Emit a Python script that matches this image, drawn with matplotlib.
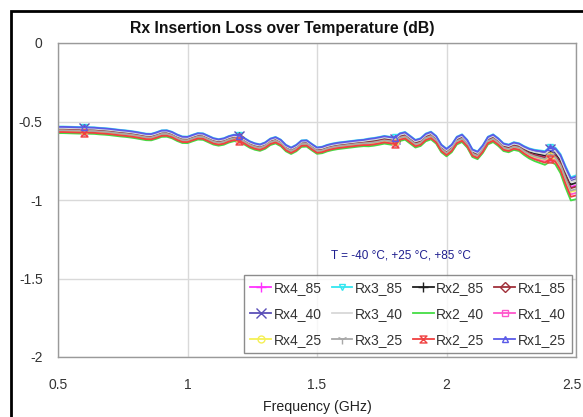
import numpy as np
import matplotlib
matplotlib.use("Agg")
import matplotlib.pyplot as plt
from matplotlib.path import Path
from matplotlib.patches import Rectangle
from matplotlib.transforms import ScaledTranslation

plt.rcParams['font.family'] = ['Liberation Sans', 'DejaVu Sans']

# Frequency grid (GHz)
freq = [round(0.50 + 0.02 * i, 2) for i in range(101)]

# Centre of the bundle of curves (dB)
base = [
    -0.552, -0.552, -0.553, -0.554, -0.555, -0.555, -0.556, -0.557, -0.560, -0.562,
    -0.565, -0.569, -0.573, -0.576, -0.580, -0.585, -0.591, -0.597, -0.598, -0.588,
    -0.576, -0.575, -0.585, -0.602, -0.615, -0.616, -0.604, -0.593, -0.595, -0.610,
    -0.625, -0.632, -0.626, -0.612, -0.603, -0.608, -0.625, -0.645, -0.658, -0.665,
    -0.652, -0.628, -0.618, -0.635, -0.668, -0.685, -0.668, -0.640, -0.638, -0.662,
    -0.684, -0.680, -0.668, -0.660, -0.654, -0.650, -0.646, -0.642, -0.638, -0.635,
    -0.632, -0.628, -0.622, -0.615, -0.620, -0.625, -0.598, -0.590, -0.615, -0.640,
    -0.630, -0.600, -0.588, -0.615, -0.670, -0.696, -0.670, -0.620, -0.605, -0.640,
    -0.700, -0.714, -0.675, -0.620, -0.605, -0.630, -0.662, -0.670, -0.655, -0.662,
    -0.684, -0.702, -0.714, -0.722, -0.730, -0.705, -0.716, -0.765, -0.850, -0.925,
    -0.915,
]

# Half-width of the bundle (dB) along frequency
spread = [0.022] * 60 + [0.026] * 30 + [0.030, 0.034, 0.038, 0.042, 0.046,
                                        0.050, 0.056, 0.064, 0.072, 0.078, 0.080]

series_names = ["Rx4_85", "Rx3_85", "Rx2_85", "Rx1_85",
                "Rx4_40", "Rx3_40", "Rx2_40", "Rx1_40",
                "Rx4_25", "Rx3_25", "Rx2_25", "Rx1_25"]
# relative position of each series inside the bundle (-1 bottom .. +1 top)
series_offsets = [0.1, 0.9, 0.3, 0.0,
                  0.6, 0.5, -1.0, -0.5,
                  -0.3, -0.2, -0.7, 0.8]

hourglass = Path([(-1, 1), (1, 1), (-1, -1), (1, -1), (-1, 1)],
                 [Path.MOVETO, Path.LINETO, Path.LINETO, Path.LINETO, Path.CLOSEPOLY])

styles = {
    "Rx4_85": dict(color="#FF33FF", marker="+"),
    "Rx3_85": dict(color="#33E6F0", marker="v"),
    "Rx2_85": dict(color="#202020", marker="+"),
    "Rx1_85": dict(color="#A0303A", marker="D"),
    "Rx4_40": dict(color="#5A4FB8", marker="x"),
    "Rx3_40": dict(color="#D8D8D8", marker=None),
    "Rx2_40": dict(color="#44DD44", marker=None),
    "Rx1_40": dict(color="#FF55CC", marker="s"),
    "Rx4_25": dict(color="#F5F055", marker="o"),
    "Rx3_25": dict(color="#A8A8A8", marker="1"),
    "Rx2_25": dict(color="#F04040", marker=hourglass),
    "Rx1_25": dict(color="#5A5AE8", marker="^"),
}

fig = plt.figure(figsize=(5.83, 4.17), dpi=100)
ax = fig.add_axes([58 / 583, 1 - 357 / 417, (576 - 58) / 583, (357 - 43) / 417])

f = np.array(freq)
b = np.array(base)
s = np.array(spread)
mark_idx = [5, 35, 65, 95]

handles = {}
for name, off in zip(series_names, series_offsets):
    st = styles[name]
    y = b + off * s
    ms = 5 if st["marker"] not in ("+", "x", "1") else 7
    line, = ax.plot(f, y, color=st["color"], lw=1.3,
                    marker=st["marker"], markevery=mark_idx, markersize=ms,
                    markerfacecolor="none", markeredgecolor=st["color"],
                    markeredgewidth=1.0, label=name)
    handles[name] = line

ax.set_xlim(0.5, 2.5)
ax.set_ylim(-2, 0)
ax.set_xticks([0.5, 1, 1.5, 2, 2.5])
ax.set_xticklabels(["0.5", "1", "1.5", "2", "2.5"])
ax.set_yticks([0, -0.5, -1, -1.5, -2])
ax.set_yticklabels(["0", "-0.5", "-1", "-1.5", "-2"])
ax.tick_params(axis="y", length=0, labelsize=10, colors="#333333", pad=11)
ax.tick_params(axis="x", length=0, labelsize=10, colors="#333333", pad=15)
# keep the last x label inside the picture
lbl = ax.get_xticklabels()[-1]
lbl.set_transform(lbl.get_transform() + ScaledTranslation(-4 / 100, 0, fig.dpi_scale_trans))

ax.grid(True, color="#D9D9D9", lw=1.0)
ax.set_axisbelow(True)
for sp in ax.spines.values():
    sp.set_color("#9A9A9A")
    sp.set_linewidth(1.0)

ax.set_xlabel("Frequency (GHz)", fontsize=10.2, color="#222222", labelpad=6)
fig.text(282 / 583, 1 - 28 / 417, "Rx Insertion Loss over Temperature (dB)",
         ha="center", va="center", fontsize=11.3, fontweight="bold", color="#111111")

fig.text(401 / 583, 1 - 255 / 417, "T = -40 °C, +25 °C, +85 °C",
         ha="center", va="center", fontsize=8.5, color="#1F1F8F")

# legend: row-wise order as in reference -> supply column-wise
col_order = ["Rx4_85", "Rx4_40", "Rx4_25",
             "Rx3_85", "Rx3_40", "Rx3_25",
             "Rx2_85", "Rx2_40", "Rx2_25",
             "Rx1_85", "Rx1_40", "Rx1_25"]
leg = ax.legend([handles[n] for n in col_order], col_order, ncol=4,
                loc="lower left",
                bbox_to_anchor=((244 - 58) / 518, (357 - 353) / 314,
                                (572 - 244) / 518, (353 - 272) / 314),
                mode="expand", fontsize=10, frameon=True, fancybox=False,
                handlelength=1.5, handletextpad=0.2, columnspacing=0.6,
                borderpad=0.45, labelspacing=0.85, borderaxespad=0)
leg.get_frame().set_edgecolor("#707070")
leg.get_frame().set_linewidth(1.0)
for t in leg.get_texts():
    t.set_color("#333333")

# outer chart frame
fig.patches.append(Rectangle((11 / 583, -0.05), 1.0, 1 - 11 / 417 + 0.05,
                             transform=fig.transFigure, fill=False,
                             edgecolor="black", lw=2.0))

fig.savefig("out.png", dpi=100)
